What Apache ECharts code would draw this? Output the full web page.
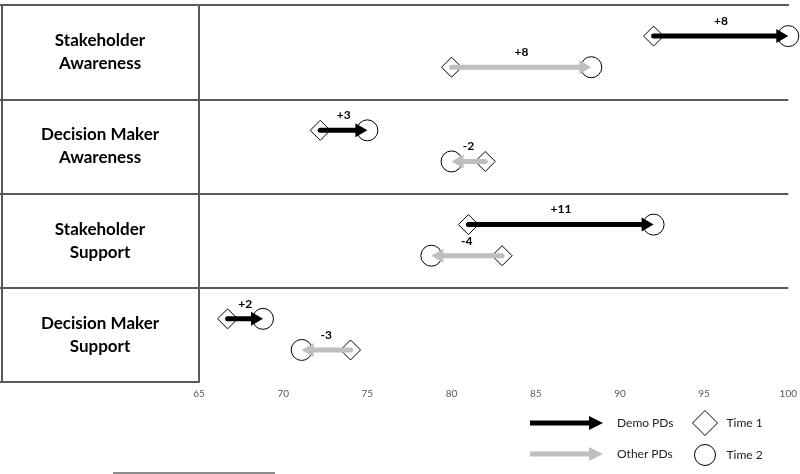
<!DOCTYPE html>
<html>
<head>
<meta charset="utf-8">
<script src="https://cdn.jsdelivr.net/npm/echarts@6/dist/echarts.min.js"></script>
<style>
  html, body { margin: 0; padding: 0; background: #fff; }
  #chart { width: 800px; height: 474px; }
</style>
</head>
<body>
<div id="chart"></div>
<script>
// ---- data ----
var categories = ['Stakeholder\nAwareness', 'Decision Maker\nAwareness', 'Stakeholder\nSupport', 'Decision Maker\nSupport'];
var demoTime1 = [92, 72.2, 81, 66.7];
var demoTime2 = [100, 75, 92, 68.8];
var demoChange = ['+8', '+3', '+11', '+2'];
var otherTime1 = [80, 82, 83, 74];
var otherTime2 = [88.3, 80, 78.8, 71.1];
var otherChange = ['+8', '-2', '-4', '-3'];
var xTicks = [65, 70, 75, 80, 85, 90, 95, 100];

// lane offsets inside each category band (layout)
var DEMO_LANE = 0.33, OTHER_LANE = 0.66;

var FONT = 'Lato, "Open Sans", sans-serif';
var LINE = '#595959';

function arrowData(t1, t2, ch, lane) {
  return t1.map(function (v, i) { return [v, t2[i], i + lane, ch[i]]; });
}
function pointData(vals, lane) {
  return vals.map(function (v, i) { return [v, i + lane]; });
}

function renderArrow(params, api) {
  var p1 = api.coord([api.value(0), api.value(2)]);
  var p2 = api.coord([api.value(1), api.value(2)]);
  var color = api.visual('color');
  var dir = p2[0] >= p1[0] ? 1 : -1;
  var headLen = 12, headHalf = 7;
  var baseX = p2[0] - dir * headLen;
  var label = params.seriesIndex === 0 ? demoChange[params.dataIndex] : otherChange[params.dataIndex];
  return {
    type: 'group',
    children: [
      { type: 'line', shape: { x1: p1[0], y1: p1[1], x2: baseX + dir * 1, y2: p2[1] },
        style: { stroke: color, lineWidth: 5, lineCap: 'round' } },
      { type: 'polygon', shape: { points: [[p2[0], p2[1]], [baseX, p2[1] - headHalf], [baseX, p2[1] + headHalf]] },
        style: { fill: color } },
      { type: 'text', style: { text: label, x: (p1[0] + p2[0]) / 2, y: p1[1] - 15,
        align: 'center', verticalAlign: 'middle', font: 'bold 12px ' + FONT, fill: '#000' } }
    ]
  };
}

var chart = echarts.init(document.getElementById('chart'), null, { renderer: 'canvas' });
var arrowIcon = 'path://M0,4.5L59,4.5L59,0L73,7L59,14L59,9.5L0,9.5Z';

chart.setOption({
  animation: false,
  backgroundColor: '#fff',
  textStyle: { fontFamily: FONT },
  grid: { left: 199, right: 10, top: 5, bottom: 92, containLabel: false },
  xAxis: [
    {
      type: 'value', min: 65, max: 100, interval: 5, z: 5, position: 'bottom',
      axisLine: { show: true, lineStyle: { color: '#d9d9d9', width: 2 } },
      axisTick: { show: false },
      splitLine: { show: false },
      axisLabel: { color: '#595959', fontSize: 10, margin: 7, fontFamily: FONT,
        formatter: function (v) { return xTicks.indexOf(v) >= 0 ? String(v) : ''; } }
    },
    {
      type: 'value', min: 65, max: 100, interval: 5, z: 5, position: 'top',
      axisLine: { show: true, lineStyle: { color: LINE, width: 2 } },
      axisTick: { show: false }, axisLabel: { show: false }, splitLine: { show: false }
    }
  ],
  yAxis: [
    {
      type: 'category', data: categories, inverse: true, boundaryGap: true, z: 1,
      axisLine: { show: true, lineStyle: { color: LINE, width: 2 } },
      axisTick: { show: true, length: 199, lineStyle: { color: LINE, width: 2 } },
      splitLine: { show: true, showMinLine: false, showMaxLine: false, lineStyle: { color: LINE, width: 2 } },
      axisLabel: { show: true, margin: 99, align: 'center', color: '#000',
        fontSize: 17, fontWeight: 'bold', lineHeight: 23, fontFamily: FONT, padding: [0, 0, 6, 0] }
    },
    {
      type: 'value', min: 0, max: 4, inverse: true, position: 'left', offset: 197,
      axisLine: { show: true, lineStyle: { color: LINE, width: 2 } },
      axisTick: { show: false }, axisLabel: { show: false }, splitLine: { show: false }
    }
  ],
  legend: [
    { data: ['Demo PDs', 'Other PDs'], orient: 'vertical', left: 530, top: 416, padding: 0,
      itemWidth: 73, itemHeight: 14, itemGap: 17, icon: arrowIcon, selectedMode: false,
      textStyle: { color: '#222', fontSize: 12, fontFamily: FONT, padding: [0, 0, 0, 9] } },
    { data: [{ name: 'Time 1', icon: 'diamond' }], left: 692, top: 410, padding: 0,
      itemWidth: 25, itemHeight: 25, selectedMode: false,
      itemStyle: { color: 'rgba(0,0,0,0)', borderColor: '#000', borderWidth: 1 },
      textStyle: { color: '#222', fontSize: 12, fontFamily: FONT, padding: [0, 0, 0, 4] } },
    { data: [{ name: 'Time 2', icon: 'circle' }], left: 694, top: 444, padding: 0,
      itemWidth: 21, itemHeight: 21, selectedMode: false,
      itemStyle: { color: 'rgba(0,0,0,0)', borderColor: '#000', borderWidth: 1 },
      textStyle: { color: '#222', fontSize: 12, fontFamily: FONT, padding: [0, 0, 0, 6] } }
  ],
  graphic: [
    { type: 'line', shape: { x1: 113, y1: 473, x2: 275, y2: 473 },
      style: { stroke: '#8c8c8c', lineWidth: 2 } }
  ],
  series: [
    { name: 'Demo PDs', type: 'custom', coordinateSystem: 'cartesian2d', xAxisIndex: 0, yAxisIndex: 1, z: 4,
      itemStyle: { color: '#000' }, renderItem: renderArrow,
      data: arrowData(demoTime1, demoTime2, demoChange, DEMO_LANE) },
    { name: 'Other PDs', type: 'custom', coordinateSystem: 'cartesian2d', xAxisIndex: 0, yAxisIndex: 1, z: 4,
      itemStyle: { color: '#bfbfbf' }, renderItem: renderArrow,
      data: arrowData(otherTime1, otherTime2, otherChange, OTHER_LANE) },
    { name: 'Time 1', type: 'scatter', xAxisIndex: 0, yAxisIndex: 1, z: 3,
      symbol: 'diamond', symbolSize: 20,
      itemStyle: { color: 'rgba(0,0,0,0)', borderColor: '#000', borderWidth: 1, opacity: 1 },
      data: pointData(demoTime1, DEMO_LANE).concat(pointData(otherTime1, OTHER_LANE)) },
    { name: 'Time 2', type: 'scatter', xAxisIndex: 0, yAxisIndex: 1, z: 3,
      symbol: 'circle', symbolSize: 21,
      itemStyle: { color: 'rgba(0,0,0,0)', borderColor: '#000', borderWidth: 1, opacity: 1 },
      data: pointData(demoTime2, DEMO_LANE).concat(pointData(otherTime2, OTHER_LANE)) }
  ]
});
</script>
</body>
</html>
